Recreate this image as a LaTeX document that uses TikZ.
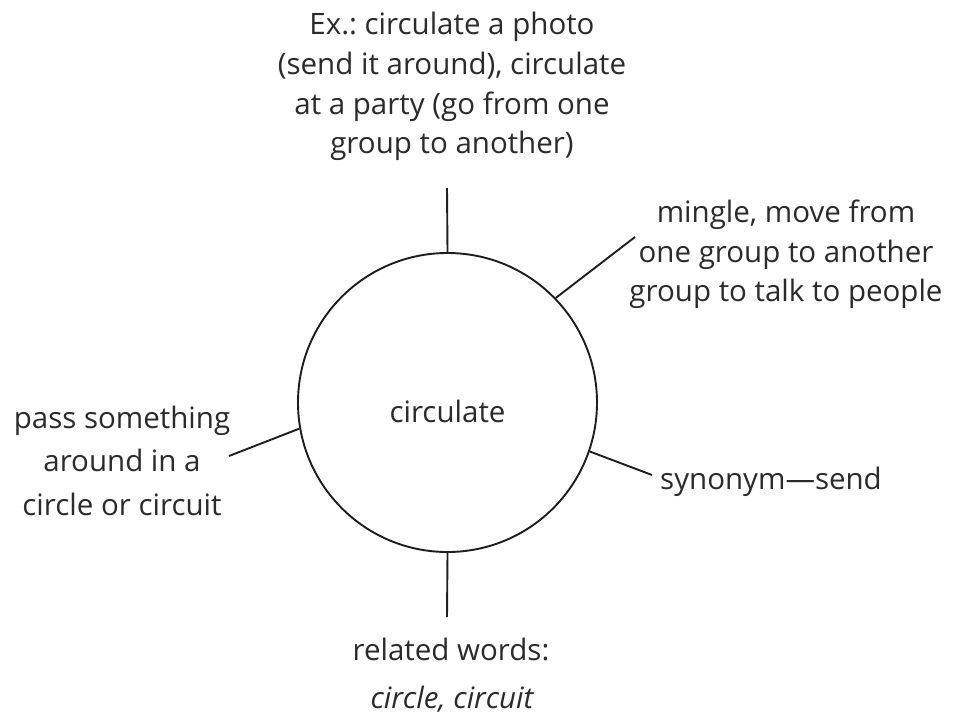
\documentclass[tikz,border=0pt]{standalone}
\usepackage{fontspec}
\setmainfont{Open Sans}
\frenchspacing
\definecolor{txt}{HTML}{2B2B2B}
\definecolor{ink}{HTML}{1E1E1E}
\begin{document}
\begin{tikzpicture}[x=1pt,y=-1pt,
  lbl/.style={anchor=base,inner sep=0pt,text=txt,font=\fontsize{29.5}{36}\selectfont},
  spoke/.style={draw=ink,line width=1.9pt},
  hub/.style={circle,draw=ink,line width=1.9pt,minimum size=299pt,inner sep=0pt}]
\useasboundingbox (0,0) rectangle (960,717);
\node[hub] (c) at (447.5,402.5) {};
\node[lbl] (word) at (447.5,422) {circulate};
% top
\node[lbl] (t1) at (452,35) {Ex.: circulate a photo};
\node[lbl] (t2) at (452,74.5) {(send it around), circulate};
\node[lbl] (t3) at (452,114) {at a party (go from one};
\node[lbl] (t4) at (452,153.5) {group to another)};
% upper right
\node[lbl] (r1) at (786,222) {mingle, move from};
\node[lbl] (r2) at (786,262) {one group to another};
\node[lbl] (r3) at (786,301) {group to talk to people};
% left
\node[lbl] (l1) at (122,428) {pass something};
\node[lbl] (l2) at (122,471.5) {around in a};
\node[lbl] (l3) at (122,515) {circle or circuit};
% lower right
\node[lbl] (s1) at (771,489) {synonym—send};
% bottom
\node[lbl] (b1) at (451,660) {related words:};
\node[lbl] (b2) at (452,708) {\itshape circle, circuit};
% spoke ends
\coordinate (et) at (447,188);
\coordinate (eur) at (635,237);
\coordinate (elr) at (652,475);
\coordinate (el) at (229,456);
\coordinate (eb) at (447,617);
\draw[spoke] (c.north) -- (et);
\draw[spoke] (c.44) -- (eur);
\draw[spoke] (c.-19) -- (elr);
\draw[spoke] (c.190) -- (el);
\draw[spoke] (c.south) -- (eb);
\end{tikzpicture}
\end{document}
